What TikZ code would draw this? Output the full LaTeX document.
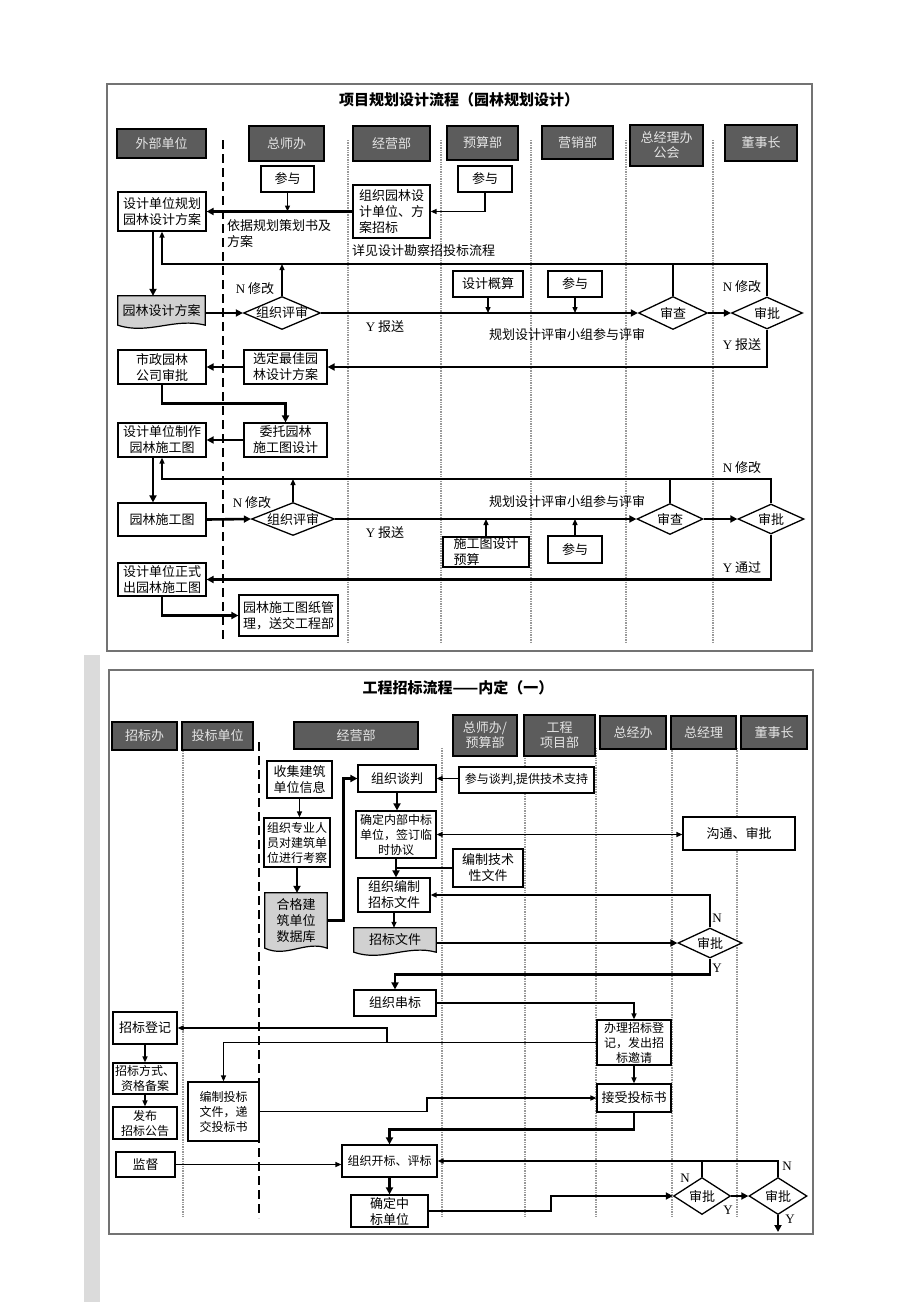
\documentclass[tikz,border=0pt]{standalone}
\usepackage{fontspec}
\setmainfont{Noto Sans CJK SC}
\newfontfamily\lat{Liberation Serif}
\usetikzlibrary{arrows.meta,shapes.geometric,calc}
\newcommand\nf{\fontsize{13}{16}\selectfont}
\newcommand\nfs{\fontsize{12}{15}\selectfont}
\newcommand\hf{\fontsize{13}{15}\selectfont}
\definecolor{docfill}{gray}{0.82}
\definecolor{hdrfill}{gray}{0.36}
\newcommand\bx[7][]{\node[box,#1,minimum width={(#5-#3)*1pt},minimum height={(#6-#4)*1pt}] (#2) at ({(#3+#5)/2},{(#4+#6)/2}) {#7};}
\newcommand\dm[6]{\node[dia,minimum width=#4pt,minimum height=#5pt,label={[font=\nf,inner sep=0pt]center:#6}] (#1) at (#2,#3) {};}
\newcommand\docbx[6]{%
 \node[minimum width={(#4-#2)*1pt},minimum height={(#5-#3)*1pt},inner sep=0pt] (#1) at ({(#2+#4)/2},{(#3+#5)/2}) {};
 \draw[line width=1.2pt,fill=docfill] (#1.north west) -- (#1.north east) -- (#1.south east) .. controls ($(#1.south east)!0.35!(#1.south west)+(0,-8)$) and ($(#1.south east)!0.65!(#1.south west)+(0,10)$) .. (#1.south west) -- cycle;
 \node[font=\nf,align=center,inner sep=0pt] (#1t) at (#1.center) {#6};}
\begin{document}
\begin{tikzpicture}[x=1pt,y=-1pt,
  box/.style={draw,line width=1.2pt,fill=white,inner sep=1pt,align=center,font=\nf},
  hdr/.style={draw=black,line width=1.3pt,fill=hdrfill,text=black!10,font=\hf,inner sep=1pt},
  dia/.style={diamond,draw,line width=1.3pt,fill=white,inner sep=0pt},
  txt/.style={font=\nf,inner sep=0pt},
  frame/.style={draw=black!55,line width=1.3pt},
  lane/.style={draw=black!40,densely dotted,line width=1.4pt},
  dsh/.style={draw=black,line width=1.6pt,dash pattern=on 9pt off 5pt},
  tk/.style={line width=2.6pt,-{Triangle[length=7pt,width=7pt]}},
  tkl/.style={line width=2.6pt},
  md/.style={line width=1.3pt,-{Triangle[length=6pt,width=5pt]}},
  mdl/.style={line width=1.3pt},
  dbl/.style={line width=1.3pt,{Triangle[length=6pt,width=5pt]}-{Triangle[length=6pt,width=5pt]}}]
\useasboundingbox (0,0) rectangle (920,1302);
\fill[white] (0,0) rectangle (920,1302);
\fill[black!14] (84,655) rectangle (100,1302);
% ---------- top panel ----------
\draw[frame] (107,84) rectangle (812,651);
\node[font=\fontsize{15}{18}\selectfont\bfseries,inner sep=0pt] (T1) at (459,100) {项目规划设计流程（园林规划设计）};
\draw[dsh] (223,140) -- (223,642);
\foreach \x in {348,441,531,626,713} \draw[lane] (\x,140) -- (\x,642);
\bx[hdr]{h1}{117}{129}{206}{158}{外部单位}
\bx[hdr]{h2}{249}{126}{324}{161}{总师办}
\bx[hdr]{h3}{353}{126}{430}{161}{经营部}
\bx[hdr]{h4}{447}{126}{518}{160}{预算部}
\bx[hdr]{h5}{542}{126}{613}{159}{营销部}
\bx[hdr,align=center]{h6}{630}{125}{703}{166}{总经理办\\公会}
\bx[hdr]{h7}{725}{125}{797}{161}{董事长}

\bx{p1}{261}{166}{314}{192}{参与}
\bx[align=left]{zz}{353}{185}{430}{238}{组织园林设\\计单位、方\\案招标}
\bx{p2}{458}{166}{512}{192}{参与}
\bx{a1}{118}{192}{206}{231}{设计单位规划\\园林设计方案}
\draw[tk] (zz.west) -- (a1.east);
\draw[md] (p1.south) -- (p1.south |- zz.west);
\draw[md] (p2.south) |- (zz.east);
\node[txt,align=left,anchor=north west] (t1) at (227,219) {依据规划策划书及\\方案};
\node[txt,anchor=west] (t2) at (352,251) {详见设计勘察招投标流程};

\dm{r1}{282}{313}{77}{33}{组织评审}
\dm{sc1}{673}{313}{69}{33}{审查}
\dm{sp1}{767}{313}{71}{32}{审批}
\docbx{d1}{118}{296}{205}{325}{园林设计方案}
\draw[tk] ([xshift=-9pt]a1.south) -- ([xshift=-9pt]a1.south |- d1.north);
\draw[tk] (d1.east |- r1.west) -- (r1.west);
\draw[tk] (r1.east) -- (sc1.west);
\draw[tk] (sc1.east) -- (sp1.west);
\bx{ga}{453}{271}{523}{297}{设计概算}
\bx{p3}{548}{271}{602}{297}{参与}
\draw[md] (ga.south) -- (ga.south |- r1.east);
\draw[md] (p3.south) -- (p3.south |- r1.east);
\coordinate (f1) at (162,264);
\draw[md] (sp1.north) |- (f1) -- (a1.south);
\draw[mdl] (sc1.north) -- (sc1.north |- f1);
\draw[md] (r1.north) -- (r1.north |- f1);
\node[txt] (n1) at (255,289) {{\lat N} 修改};
\node[txt] (y1) at (385,327) {{\lat Y} 报送};
\node[txt] (g1) at (567,335) {规划设计评审小组参与评审};
\node[txt] (n2) at (742,287) {{\lat N} 修改};
\node[txt] (y2) at (742,345) {{\lat Y} 报送};

\bx{xd}{244}{350}{327}{384}{选定最佳园\\林设计方案}
\bx{sz}{118}{350}{206}{384}{市政园林\\公司审批}
\draw[tk] (sp1.south) |- (xd.east);
\draw[tk] (xd.west) -- (sz.east);
\bx{wt}{244}{423}{327}{457}{委托园林\\施工图设计}
\bx{zz2}{118}{423}{206}{457}{设计单位制作\\园林施工图}
\draw[tk] (sz.south) -- ++(0,19) -| (wt.north);
\draw[tk] (wt.west) -- (zz2.east);
\bx{d2}{118}{503}{206}{536}{园林施工图}
\draw[tk] ([xshift=-9pt]zz2.south) -- ([xshift=-9pt]zz2.south |- d2.north);
\dm{r2}{293}{519}{83}{33}{组织评审}
\dm{sc2}{670}{519}{66}{31}{审查}
\dm{sp2}{771}{519}{66}{30}{审批}
\draw[tk] (d2.east) -- (r2.west);
\draw[tk] (r2.east) -- (sc2.west);
\draw[tk] (sc2.east) -- (sp2.west);
\coordinate (f2) at (162,479);
\draw[md] (sp2.north) |- (f2) -- (zz2.south);
\draw[mdl] (sc2.north) -- (sc2.north |- f2);
\draw[md] (r2.north) -- (r2.north |- f2);
\bx[align=left]{sy}{443}{537}{529}{567}{施工图设计\\预算}
\bx{p4}{548}{536}{602}{563}{参与}
\draw[md] (sy.north) -- (sy.north |- r2.east);
\draw[md] (p4.north) -- (p4.north |- r2.east);
\node[txt] (n3) at (252,503) {{\lat N} 修改};
\node[txt] (y3) at (385,533) {{\lat Y} 报送};
\node[txt] (g2) at (567,502) {规划设计评审小组参与评审};
\node[txt] (n4) at (742,468) {{\lat N} 修改};
\node[txt] (y4) at (742,568) {{\lat Y} 通过};
\bx{zs}{118}{563}{206}{596}{设计单位正式\\出园林施工图}
\draw[tk] (sp2.south) |- (zs.east);
\bx[align=left]{gl}{239}{595}{338}{636}{园林施工图纸管\\理，送交工程部}
\draw[tk] (zs.south) |- (gl.west);

% ---------- bottom panel ----------
\draw[frame] (109,670) rectangle (813,1234);
\node[font=\fontsize{15}{18}\selectfont\bfseries,inner sep=0pt] (T2) at (458,688) {工程招标流程——内定（一）};
\draw[dsh] (259,742) -- (259,1218);
\foreach \x in {183,442,525,596,672,737} \draw[lane] (\x,748) -- (\x,1218);
\bx[hdr]{b1}{112}{722}{177}{750}{招标办}
\bx[hdr]{b2}{182}{722}{253}{750}{投标单位}
\bx[hdr]{b3}{294}{722}{418}{749}{经营部}
\bx[hdr,align=center]{b4}{453}{715}{517}{756}{总师办/\\预算部}
\bx[hdr,align=center]{b5}{524}{715}{595}{756}{工程\\项目部}
\bx[hdr]{b6}{600}{716}{666}{749}{总经办}
\bx[hdr]{b7}{671}{716}{736}{749}{总经理}
\bx[hdr]{b8}{741}{716}{807}{749}{董事长}

\bx{c1}{267}{761}{332}{798}{收集建筑\\单位信息}
\bx[font=\nfs]{c2}{264}{818}{330}{867}{组织专业人\\员对建筑单\\位进行考察}
\docbx{c3}{265}{893}{327}{948}{合格建\\筑单位\\数据库}
\draw[md] (c1.south) -- (c1.south |- c2.north);
\draw[tk] (c2.south) -- (c2.south |- c3.north);
\bx{tp}{358}{765}{436}{792}{组织谈判}
\draw[tk] (c3.east) -- ++(16,0) |- (tp.west);
\bx[font=\nfs]{cy}{459}{767}{594}{793}{参与谈判,提供技术支持}
\draw[md] (cy.west |- tp.east) -- (tp.east);
\bx[font=\nfs]{qd}{356}{811}{436}{858}{确定内部中标\\单位，签订临\\时协议}
\draw[tk] (tp.south) -- (tp.south |- qd.north);
\bx{gt}{683}{817}{795}{850}{沟通、审批}
\draw[dbl] (qd.east) -- (qd.east -| gt.west);
\bx{zb}{358}{878}{430}{912}{组织编制\\招标文件}
\draw[tk] (qd.south) -- (qd.south |- zb.north);
\bx{js}{453}{849}{523}{887}{编制技术\\性文件}
\draw[mdl] (js.west) -- (js.west -| qd.south);
\dm{sp3}{710}{943}{64}{30}{审批}
\draw[md] (sp3.north) |- (zb.east);
\docbx{zw}{354}{928}{436}{952}{招标文件}
\draw[md] (zb.south) -- (zb.south |- zw.north);
\draw[tk] (zw.east |- sp3.west) -- (sp3.west);
\node[txt] (n5) at (717,918) {\lat N};
\node[txt] (y5) at (717,968) {\lat Y};
\bx{cb}{354}{990}{436}{1016}{组织串标}
\draw[tk] (sp3.south) -- ++(0,16) -| (cb.north);
\bx[font=\nfs]{bl}{597}{1020}{671}{1065}{办理招标登\\记，发出招\\标邀请}
\draw[md] (cb.east) -| (bl.north);
\bx[font=\nfs]{bz}{188}{1082}{259}{1141}{编制投标\\文件，递\\交投标书}
\bx{zd}{113}{1012}{177}{1044}{招标登记}
\draw[md] (bl.west) -| (bz.north);
\coordinate (j1) at (387,1042.5);
\draw[md] (j1) |- (zd.east);
\bx[font=\nfs]{zf}{113}{1063}{177}{1094}{招标方式、\\资格备案}
\bx[font=\nfs]{fb}{113}{1107}{177}{1139}{发布\\招标公告}
\draw[md] (zd.south) -- (zf.north);
\draw[md] (zf.south) -- (fb.north);
\bx{jd}{116}{1152}{175}{1177}{监督}
\bx[font=\nfs]{kb}{342}{1145}{437}{1177}{组织开标、评标}
\draw[md] (jd.east) -- (jd.east -| kb.west);
\bx{jt}{597}{1084}{671}{1112}{接受投标书}
\draw[md] (bl.south) -- (jt.north);
\coordinate (j2) at (427,1111.5);
\draw[md] (bz.east) -- (j2) |- (jt.west);
\draw[tk] (jt.south) -- ++(0,17) -| (kb.north);
\dm{sp4}{702}{1196}{57}{37}{审批}
\dm{sp5}{778}{1196}{58}{37}{审批}
\draw[md] (sp5.north) |- (kb.east);
\draw[mdl] (sp4.north) -- (sp4.north |- kb.east);
\bx{qz}{351}{1195}{428}{1227}{确定中\\标单位}
\draw[tk] (kb.south) -- (kb.south |- qz.north);
\coordinate (j3) at (551,1211);
\draw[tk] (qz.east) -- (j3) |- (sp4.west);
\draw[tk] (sp4.east) -- (sp5.west);
\coordinate (e1) at (778,1232);
\draw[tk] (sp5.south) -- (e1);
\node[txt] (n6) at (685,1178) {\lat N};
\node[txt] (y6) at (728,1210) {\lat Y};
\node[txt] (n7) at (787,1166) {\lat N};
\node[txt] (y7) at (790,1219) {\lat Y};
\end{tikzpicture}
\end{document}
